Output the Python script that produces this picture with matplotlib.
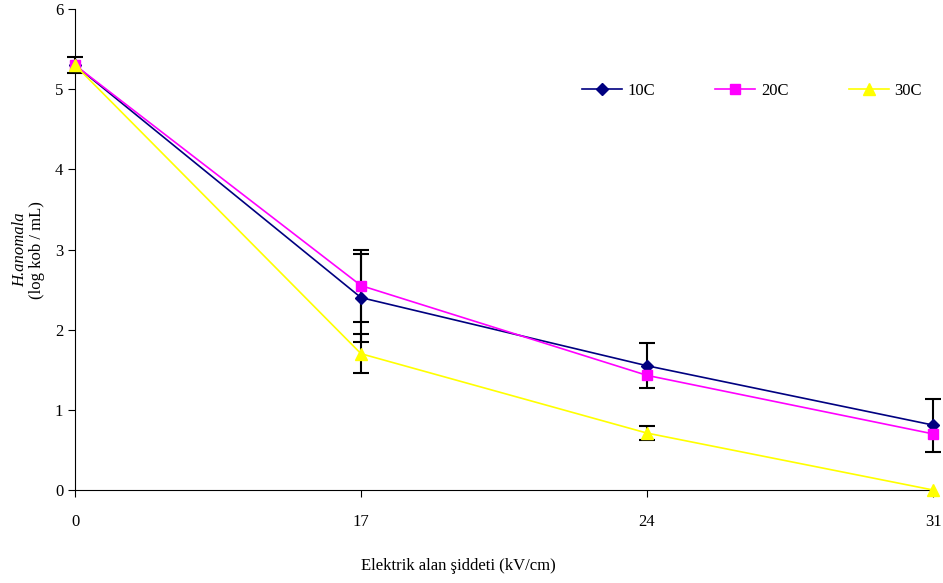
import matplotlib
matplotlib.use("Agg")
import matplotlib.pyplot as plt
import numpy as np

plt.rcParams['font.family'] = ['Liberation Serif', 'DejaVu Serif']

categories = ["0", "17", "24", "31"]
series_names = ["10C", "20C", "30C"]
v10 = [5.3, 2.40, 1.55, 0.81]
v20 = [5.3, 2.55, 1.43, 0.70]
v30 = [5.3, 1.70, 0.71, 0.00]
e10 = [0.10, 0.55, 0.28, 0.33]
e20 = [0.0, 0.45, 0.0, 0.0]
e30 = [0.0, 0.24, 0.085, 0.0]
colors = ["#000080", "#FF00FF", "#FFFF00"]
markers = ["D", "s", "^"]
msizes = [6, 7, 8]

fig = plt.figure(figsize=(9.43, 5.83), dpi=100)
ax = fig.add_axes([75/943, 1-490/583, (933-75)/943, (490-9)/583])

x = np.arange(len(categories))
for vals, errs, c, m, ms, name in zip([v10, v20, v30], [e10, e20, e30], colors, markers, msizes, series_names):
    ax.plot(x, vals, color=c, marker=m, markersize=ms, linewidth=1.2, label=name, zorder=3, clip_on=False)
    idx = [i for i, e in enumerate(errs) if e > 0]
    ax.errorbar(x[idx], np.array(vals)[idx], yerr=np.array(errs)[idx], fmt='none',
                ecolor='black', elinewidth=1.5, capsize=6, capthick=1.5, zorder=2, clip_on=False)

ax.set_xlim(0, 3)
ax.set_ylim(0, 6)
ax.set_xticks(x)
ax.set_xticklabels(categories, fontsize=12)
ax.set_yticks(range(0, 7))
ax.tick_params(axis='y', labelsize=12, direction='out', length=5)
ax.tick_params(axis='x', labelsize=12, direction='out', length=5, pad=12)
for s in ['top', 'right']:
    ax.spines[s].set_visible(False)

fig.text(20/943, 1-250/583, "H.anomala", rotation=90, style='italic', fontsize=12, ha='center', va='center')
fig.text(37/943, 1-250/583, "(log kob / mL)", rotation=90, fontsize=12, ha='center', va='center')
fig.text(458/943, 1-566/583, "Elektrik alan şiddeti (kV/cm)", fontsize=12, ha='center', va='center')

ax.legend(loc='upper left', bbox_to_anchor=(567/943, 1-68/583), bbox_transform=fig.transFigure,
          ncol=3, frameon=False, fontsize=12, handlelength=2.4, columnspacing=3.6, handletextpad=0.35)

fig.savefig("out.png", dpi=100)
